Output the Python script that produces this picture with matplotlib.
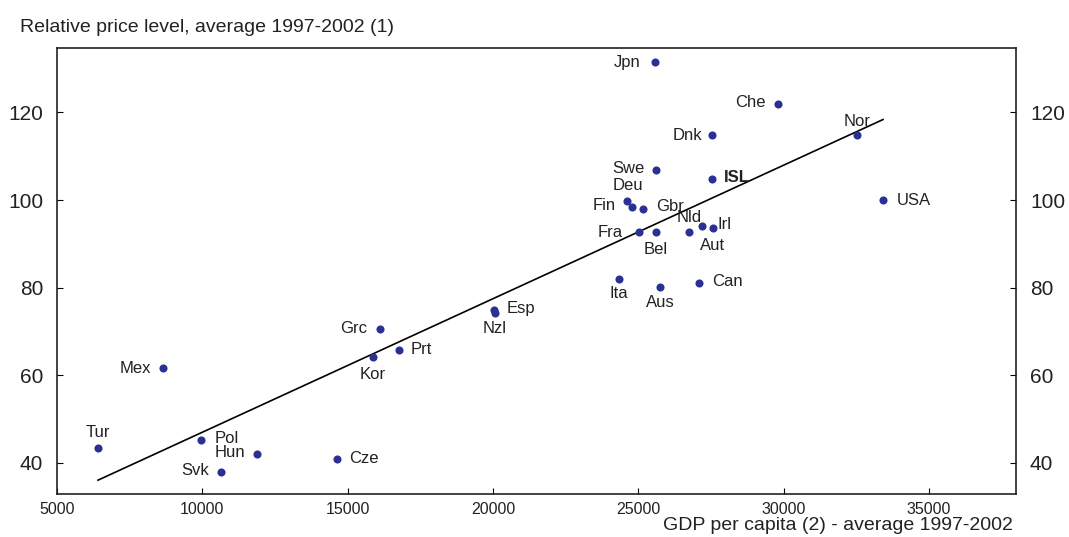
import numpy as np
import matplotlib
matplotlib.use("Agg")
import matplotlib.pyplot as plt

plt.rcParams['font.family'] = ['Liberation Sans', 'DejaVu Sans']

# data
countries = ['Jpn', 'Che', 'Dnk', 'Nor', 'Swe', 'ISL', 'USA', 'Deu', 'Fin', 'Gbr',
             'Fra', 'Bel', 'Aut', 'Nld', 'Irl', 'Ita', 'Aus', 'Can', 'Esp', 'Nzl',
             'Grc', 'Prt', 'Kor', 'Mex', 'Tur', 'Pol', 'Hun', 'Cze', 'Svk']
gdp = [25578, 29811, 27540, 32530, 25612, 27540, 33424, 24615, 24787, 25166,
       25028, 25612, 26748, 27196, 27574, 24339, 25750, 27092, 20038, 20072,
       16115, 16769, 15874, 8648, 6411, 9955, 11882, 14635, 10643]
price = [131.4, 122.0, 114.8, 114.8, 106.8, 104.8, 100.0, 99.8, 98.4, 98.0,
         92.7, 92.7, 92.7, 94.1, 93.6, 82.0, 80.2, 81.1, 74.8, 74.1,
         70.5, 65.7, 64.1, 61.6, 43.4, 45.2, 42.0, 40.9, 38.0]
yticks = [40, 60, 80, 100, 120]
xticks = [5000, 10000, 15000, 20000, 25000, 30000, 35000]

# label placement (pixel offsets from the dot, horizontal alignment)
label_pos = {
    'Jpn': (-14, 0, 'right'), 'Che': (-12, 1, 'right'), 'Dnk': (-10, 0, 'right'),
    'Nor': (0, 14, 'center'), 'Swe': (-11, 2, 'right'), 'ISL': (12, 1, 'left'),
    'USA': (14, 0, 'left'), 'Deu': (1, 15, 'center'), 'Fin': (-16, 2, 'right'),
    'Gbr': (13, 2, 'left'), 'Fra': (-16, 0, 'right'), 'Bel': (0, -17, 'center'),
    'Aut': (24, -13, 'center'), 'Nld': (-13, 8, 'center'), 'Irl': (4, 4, 'left'),
    'Ita': (0, -15, 'center'), 'Aus': (0, -16, 'center'), 'Can': (13, 1, 'left'),
    'Esp': (13, 2, 'left'), 'Nzl': (0, -15, 'center'), 'Grc': (-13, 1, 'right'),
    'Prt': (12, 1, 'left'), 'Kor': (0, -17, 'center'), 'Mex': (-12, 0, 'right'),
    'Tur': (0, 15, 'center'), 'Pol': (14, 2, 'left'), 'Hun': (-12, 2, 'right'),
    'Cze': (12, 0, 'left'), 'Svk': (-12, 1, 'right'),
}

fig = plt.figure(figsize=(10.69, 5.37), dpi=100)
ax = fig.add_axes([57 / 1069, 43 / 537, 959 / 1069, 446 / 537])

x = np.array(gdp, dtype=float)
y = np.array(price, dtype=float)

# trend line over the range of the data
b, a = np.polyfit(x, y, 1)
xl = np.array([x.min(), x.max()])
ax.plot(xl, a + b * xl, color='black', lw=1.2, zorder=2)

ax.scatter(x, y, s=34, color='#2B3192', zorder=3, linewidths=0)

for c, xi, yi in zip(countries, x, y):
    dx, dy, ha = label_pos[c]
    ax.annotate(c, (xi, yi), xytext=(dx, dy), textcoords='offset pixels',
                ha=ha, va='center', fontsize=12, color='#222222',
                fontweight='bold' if c == 'ISL' else 'normal')

ax.set_xlim(5000, 38000)
ax.set_ylim(32.9, 134.7)
ax.set_xticks(xticks)
ax.set_yticks(yticks)
ax.tick_params(axis='y', which='both', direction='in', length=4, left=True,
               right=True, labelleft=True, labelright=True, labelsize=15, pad=10,
               labelcolor='#222222')
ax.tick_params(axis='x', direction='in', length=4, labelsize=11.5, pad=6,
               labelcolor='#222222')
for s in ax.spines.values():
    s.set_linewidth(1.2)
    s.set_color('#222222')

fig.text(20 / 1069, 1 - 32 / 537, 'Relative price level, average 1997-2002 (1)',
         fontsize=14, va='baseline', ha='left', color='#222222')
fig.text(1013 / 1069, 1 - 530 / 537, 'GDP per capita (2) - average 1997-2002',
         fontsize=14, va='baseline', ha='right', color='#222222')

fig.savefig('out.png', dpi=100)
